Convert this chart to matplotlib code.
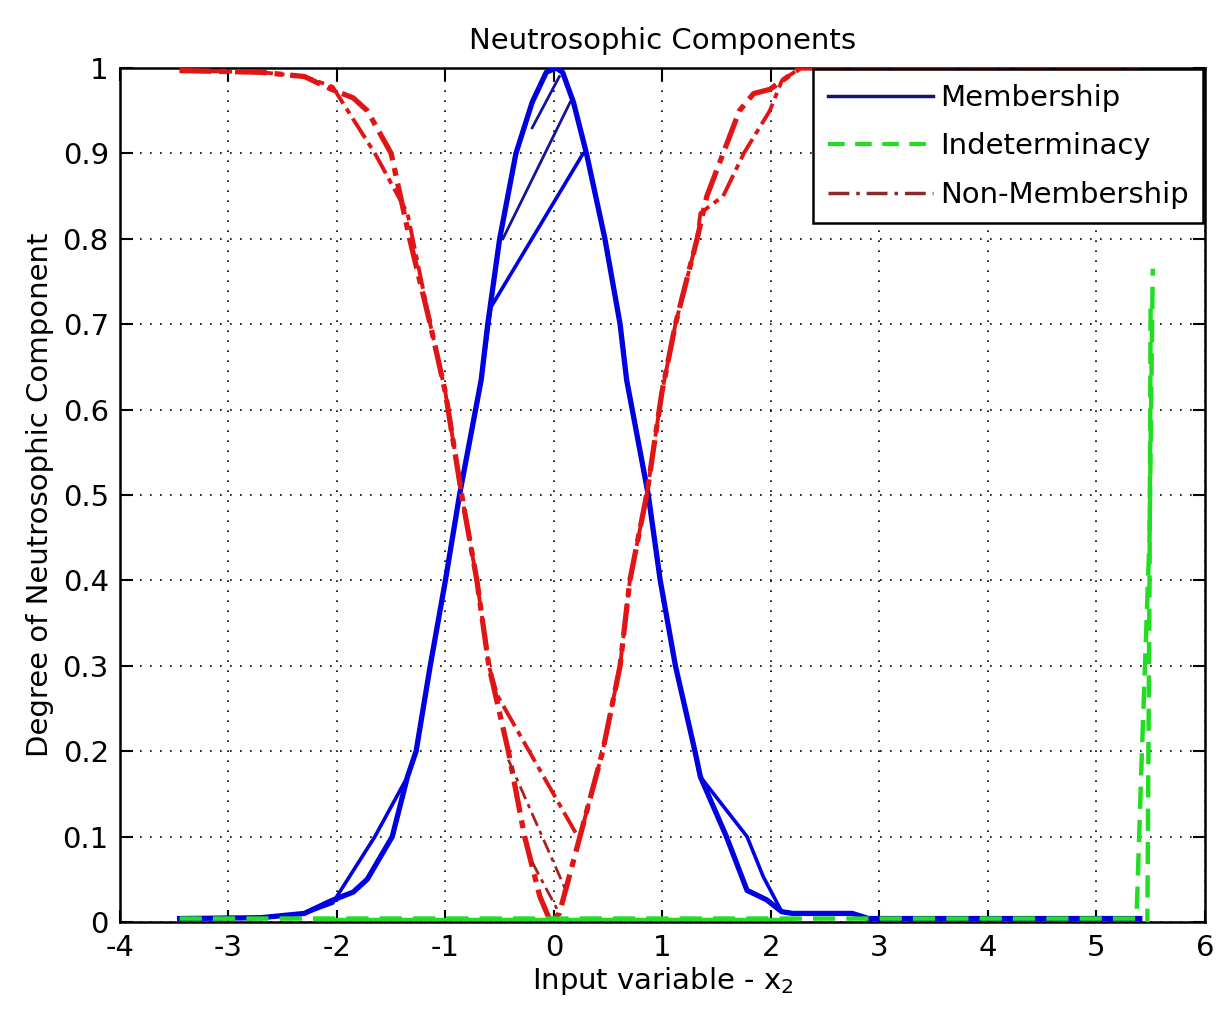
import matplotlib
matplotlib.use("Agg")
import matplotlib.pyplot as plt
from matplotlib.lines import Line2D

plt.rcParams['font.family'] = ['DejaVu Sans']
plt.rcParams['mathtext.default'] = 'regular'
plt.rcParams['axes.unicode_minus'] = False

# membership curves (blue)
mem1_x = [-3.45, -2.7, -2.3, -2.05, -1.85, -1.72, -1.49, -1.35, -1.27, -1.14, -1.0, -0.87, -0.67, -0.61,
          -0.5, -0.35, -0.2, -0.07, 0.02, 0.08, 0.18, 0.3, 0.47, 0.61, 0.67, 0.87, 0.98, 1.12, 1.3, 1.35,
          1.59, 1.78, 1.96, 2.1, 2.2, 2.75, 2.9, 5.4]
mem1_y = [0.004, 0.005, 0.01, 0.025, 0.035, 0.05, 0.10, 0.17, 0.20, 0.30, 0.40, 0.50, 0.635, 0.70,
          0.80, 0.90, 0.96, 0.995, 1.0, 0.995, 0.96, 0.90, 0.80, 0.70, 0.635, 0.50, 0.40, 0.30, 0.20, 0.17,
          0.10, 0.037, 0.026, 0.012, 0.01, 0.01, 0.004, 0.004]

mem2_x = [-3.45, -2.7, -2.3, -2.04, -1.65, -1.35, -1.27, -1.14, -1.0, -0.87, -0.67, -0.58, 0.27, 0.3,
          0.47, 0.61, 0.67, 0.87, 0.98, 1.12, 1.3, 1.35, 1.78, 1.93, 2.1, 2.2, 2.75, 2.9, 5.4]
mem2_y = [0.004, 0.005, 0.01, 0.022, 0.10, 0.17, 0.20, 0.30, 0.40, 0.50, 0.635, 0.72, 0.90, 0.90,
          0.80, 0.70, 0.635, 0.50, 0.40, 0.30, 0.20, 0.17, 0.10, 0.053, 0.012, 0.01, 0.01, 0.004, 0.004]

mem3_x = [-0.47, 0.15]
mem3_y = [0.80, 0.96]
mem4_x = [-0.2, 0.05]
mem4_y = [0.93, 0.99]

# non-membership curves (red)
non1_x = [-3.45, -2.7, -2.3, -2.05, -1.85, -1.72, -1.5, -1.33, -1.14, -1.0, -0.85, -0.71, -0.6, -0.42,
          -0.27, -0.13, -0.03, 0.05, 0.24, 0.45, 0.61, 0.70, 0.855, 0.995, 1.12, 1.32, 1.41, 1.56, 1.71,
          1.84, 1.99, 2.27, 5.4]
non1_y = [0.997, 0.995, 0.99, 0.975, 0.965, 0.95, 0.90, 0.80, 0.70, 0.62, 0.50, 0.40, 0.30, 0.20,
          0.10, 0.03, 0.0, 0.01, 0.10, 0.20, 0.30, 0.40, 0.50, 0.62, 0.70, 0.80, 0.85, 0.90, 0.95,
          0.97, 0.975, 1.0, 1.0]

non2_x = [-3.45, -2.7, -2.3, -2.04, -1.65, -1.35, -1.14, -1.0, -0.85, -0.71, -0.6, -0.52, 0.22, 0.24,
          0.45, 0.61, 0.70, 0.855, 0.995, 1.12, 1.32, 1.35, 1.56, 1.75, 1.99, 2.1, 2.27, 5.4]
non2_y = [0.997, 0.995, 0.99, 0.978, 0.90, 0.83, 0.70, 0.62, 0.50, 0.40, 0.30, 0.265, 0.10, 0.10,
          0.20, 0.30, 0.40, 0.50, 0.62, 0.70, 0.80, 0.83, 0.85, 0.90, 0.95, 0.985, 1.0, 1.0]

non3_x = [-0.42, 0.1]
non3_y = [0.19, 0.04]
non4_x = [-0.2, 0.05]
non4_y = [0.07, 0.01]

# indeterminacy (green)
ind1_x = [-3.45, 5.37, 5.42, 5.49, 5.52]
ind1_y = [0.004, 0.004, 0.2, 0.45, 0.765]
ind2_x = [5.47, 5.49, 5.5]
ind2_y = [0.0, 0.4, 0.72]
ind_mid_x = [-2.2, 2.2]
ind_mid_y = [0.004, 0.004]

fig = plt.figure(figsize=(12.19, 10.21), dpi=100)
ax = fig.add_axes([0.0984, 0.097, 0.89, 0.8364])

blue = '#0000e0'
navy = '#12129a'
red = '#e01515'
dred = '#a82020'
green = '#22dd22'

ax.plot(mem1_x, mem1_y, color=blue, lw=3.8, zorder=3)
ax.plot(mem2_x, mem2_y, color=blue, lw=2.6, zorder=3)
ax.plot(mem3_x, mem3_y, color=navy, lw=2.0, zorder=3)
ax.plot(mem4_x, mem4_y, color=navy, lw=2.0, zorder=3)

ax.plot(non1_x, non1_y, color=red, lw=3.8, ls=(0, (6, 1.5, 1.5, 1.5)), zorder=3)
ax.plot(non2_x, non2_y, color=red, lw=2.8, ls=(3, (6, 1.5, 1.5, 1.5)), zorder=3)
ax.plot(non3_x, non3_y, color=dred, lw=2.0, ls=(0, (5, 2, 1.5, 2)), zorder=3)
ax.plot(non4_x, non4_y, color=dred, lw=2.0, ls=(0, (5, 2, 1.5, 2)), zorder=3)

ax.plot(ind_mid_x, ind_mid_y, color=green, lw=2.5, zorder=4)
ax.plot(ind1_x, ind1_y, color=green, lw=3.2, ls=(0, (5, 2.5)), zorder=4)
ax.plot(ind2_x, ind2_y, color=green, lw=3.2, ls=(2, (5, 2.5)), zorder=4)

ax.set_xlim(-4, 6)
ax.set_ylim(0, 1)
ax.set_xticks(range(-4, 7))
ax.set_yticks([i / 10 for i in range(11)])
ax.set_yticklabels(['0', '0.1', '0.2', '0.3', '0.4', '0.5', '0.6', '0.7', '0.8', '0.9', '1'])
ax.grid(True, color='black', ls=(0, (1, 5)), lw=1.2)
ax.tick_params(direction='in', length=9, width=1.5, top=True, right=True, labelsize=21)
ax.tick_params(axis='x', pad=9)
ax.tick_params(axis='y', pad=8)
for s in ax.spines.values():
    s.set_linewidth(1.8)

ax.set_title('Neutrosophic Components', fontsize=21, pad=14)
ax.set_xlabel('Input variable - x$_2$', fontsize=21, labelpad=2)
ax.set_ylabel('Degree of Neutrosophic Component', fontsize=21, labelpad=6)

handles = [Line2D([], [], color='#14146e', lw=2.5),
           Line2D([], [], color=green, lw=3, ls=(0, (4, 2.5))),
           Line2D([], [], color='#8c2a2a', lw=2.5, ls=(0, (6, 2, 1, 2)))]
leg = ax.legend(handles, ['Membership', 'Indeterminacy', 'Non-Membership'], loc='upper right',
                fontsize=21, handlelength=3.6, handletextpad=0.25, labelspacing=0.7,
                borderaxespad=0.05, borderpad=0.5, fancybox=False, framealpha=1)
leg.get_frame().set_edgecolor('black')
leg.get_frame().set_linewidth(1.8)
leg.set_zorder(10)

fig.savefig('out.png', dpi=100)
